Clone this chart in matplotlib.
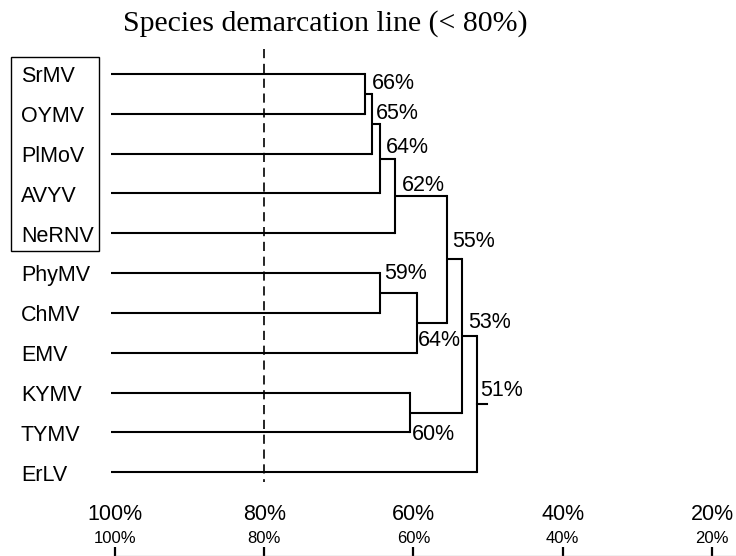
import matplotlib
matplotlib.use("Agg")
import matplotlib.pyplot as plt
from matplotlib.patches import Rectangle

# ---------------- data ----------------
leaves = ["SrMV", "OYMV", "PlMoV", "AVYV", "NeRNV", "PhyMV",
          "ChMV", "EMV", "KYMV", "TYMV", "ErLV"]
boxed_leaves = ["SrMV", "OYMV", "PlMoV", "AVYV", "NeRNV"]

# merges: (child a, child b, similarity %), children are leaf names or merge indices
merge_a = ["SrMV", 0, 1, 2, "PhyMV", 4, 3, "KYMV", 6, 8]
merge_b = ["OYMV", "PlMoV", "AVYV", "NeRNV", "ChMV", "EMV", 5, "TYMV", 7, "ErLV"]
merge_h = [66.5, 65.5, 64.5, 62.5, 64.5, 59.5, 55.5, 60.5, 53.5, 51.5]

leaf_start = 100.6   # similarity where leaf branches begin
root_stub = 50.2

# node labels as printed in the figure
node_labels = ["66%", "65%", "64%", "62%", "55%", "59%", "64%", "53%", "51%", "60%"]
node_label_x = [65.56, 65.07, 63.73, 61.54, 54.84, 63.95, 59.36, 52.66, 51.0, 60.16]
node_label_row = [0.377, 1.130, 1.983, 2.930, 4.331, 5.154, 6.829, 6.385, 8.077, 9.189]

species_line = 80
axis_ticks = [100, 80, 60, 40, 20]
axis_labels = ["100%", "80%", "60%", "40%", "20%"]
title = "Species demarcation line (< 80%)"

# ---------------- figure ----------------
fig = plt.figure(figsize=(7.36, 5.56), dpi=100)
ax = fig.add_axes([0, 0, 1, 1])
ax.set_xlim(115.41, 16.78)
ax.set_ylim(12.101, -1.858)
ax.axis("off")

SANS = ["Liberation Sans", "Arial", "DejaVu Sans"]
LW = 1.5

# leaf rows
row = {name: i for i, name in enumerate(leaves)}
node_y = {}
node_x = {}
for name in leaves:
    node_y[name] = row[name]
    node_x[name] = leaf_start

for i, (a, b, h) in enumerate(zip(merge_a, merge_b, merge_h)):
    ya, yb = node_y[a], node_y[b]
    xa, xb = node_x[a], node_x[b]
    ax.plot([xa, h], [ya, ya], color="black", lw=LW, solid_capstyle="butt")
    ax.plot([xb, h], [yb, yb], color="black", lw=LW, solid_capstyle="butt")
    ax.plot([h, h], [ya, yb], color="black", lw=LW, solid_capstyle="projecting")
    node_y[i] = (ya + yb) / 2
    node_x[i] = h

root = len(merge_h) - 1
ax.plot([node_x[root], root_stub], [node_y[root], node_y[root]], color="black", lw=LW)

# leaf labels
for name in leaves:
    ax.text(112.6, row[name] + 0.208, name, ha="left", va="baseline",
            fontsize=15.5, family=SANS)

# box around a group of leaves
ax.add_patch(Rectangle((113.99, -0.419), 102.10 - 113.99, 4.444 + 0.419,
                       fill=False, edgecolor="black", lw=1.0))

# node labels
for t, x, y in zip(node_labels, node_label_x, node_label_row):
    ax.text(x, y, t, ha="left", va="baseline", fontsize=15.5, family=SANS)

# species demarcation line
ax.plot([species_line, species_line], [-0.628, 10.24], color="black", lw=1.2,
        linestyle=(0, (5.5, 3.4)))
ax.text(71.86, -1.087, title, ha="center", va="baseline", fontsize=21.5,
        family=["Liberation Serif", "Times New Roman", "DejaVu Serif"])

# bottom scale
for v, lab in zip(axis_ticks, axis_labels):
    ax.text(v, 11.198, lab, ha="center", va="baseline", fontsize=15.5, family=SANS)
    ax.text(v, 11.768, lab, ha="center", va="baseline", fontsize=12,
            family=["Liberation Sans Narrow", "Liberation Sans", "DejaVu Sans"])
    ax.plot([v, v], [11.883, 12.101], color="black", lw=1.6, solid_capstyle="butt")
ax.plot([axis_ticks[0], 16.78], [12.089, 12.089], color="#8c8c8c", lw=0.9)

fig.savefig("out.png", dpi=100)
